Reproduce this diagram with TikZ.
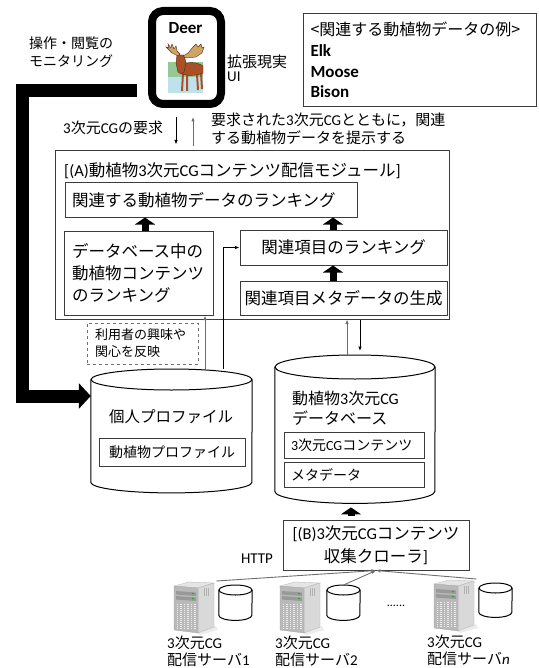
\documentclass[tikz,border=0pt]{standalone}
\usepackage{fontspec}
\setmainfont{Noto Sans CJK JP}
\newfontfamily\lat{Carlito}
\usetikzlibrary{arrows.meta}
\definecolor{cLine}{RGB}{60,60,60}
\definecolor{cArr}{RGB}{110,110,110}
\definecolor{cGrass}{RGB}{150,200,150}
\definecolor{cWater}{RGB}{190,225,235}
\definecolor{cMoose}{RGB}{170,80,40}
\definecolor{cMooseDk}{RGB}{90,40,20}
\definecolor{cAntler}{RGB}{205,165,100}
\newcommand{\sanji}{{\lat 3}次元{\lat CG}}
\newcommand{\fbig}{\fontsize{16.5}{22}\selectfont}
\newcommand{\fmid}{\fontsize{15}{18.5}\selectfont}
\newcommand{\fsmall}{\fontsize{13}{17}\selectfont}
\newcommand{\exname}[1]{{\lat\bfseries\fontsize{17}{20.7}\selectfont #1}}
% side and bottom of a drum, top ellipse on the node's north edge
\newcommand{\drumside}[3]{%
  \draw[cyl] (#1.north west) -- (#1.south west)
    arc[start angle=180, end angle=360, x radius=#2, y radius=#3] -- (#1.north east);
  \draw[cyl] (#1.north) ellipse[x radius=#2, y radius=#3];}
% tower server drawn inside a srvbox node
\newcommand{\servericon}[1]{%
  \begin{scope}[shift={(#1.north west)}]
    \fill[gray!15] (22,51) -- (42,45) -- (44,49) -- (26,54) -- cycle;
    \fill[gray!20, draw=gray!60, line width=0.3pt] (0,5) -- (15,1) -- (40,2) -- (24,7) -- cycle;
    \fill[gray!30, draw=gray!60, line width=0.3pt] (24,7) -- (40,2) -- (40,46) -- (24,52) -- cycle;
    \fill[gray!55, draw=gray!70, line width=0.3pt] (0,5) -- (24,7) -- (24,52) -- (0,49) -- cycle;
    \fill[gray!80] (2,10) -- (22,11.5) -- (22,15) -- (2,13.5) -- cycle;
    \fill[gray!80] (2,15) -- (22,16.5) -- (22,20) -- (2,18.5) -- cycle;
    \fill[green!70!black] (19,12.5) circle[radius=0.9pt] (19,17.5) circle[radius=0.9pt];
    \foreach \gx in {3.5,7,10.5,14,17.5,21}
      \draw[white!85!gray, line width=1.2pt, dash pattern=on 1.2pt off 0.8pt] (\gx,23) -- (\gx,48);
    \foreach \vx in {30,32,34}
      \draw[gray!60, line width=0.6pt] (\vx,7) -- (\vx,15);
  \end{scope}}

\begin{document}
\begin{tikzpicture}[x=1pt, y=-1pt,
  box/.style={draw=cLine, line width=1pt, inner sep=0pt, align=center, font=\fbig},
  lbl/.style={inner sep=0pt, align=left},
  body/.style={inner sep=0pt},
  cyl/.style={draw=black, line width=1pt, fill=white},
  thinarr/.style={draw=cArr, line width=0.9pt, -{Latex[length=4.5pt,width=3.5pt]}},
  linkarr/.style={draw=black, line width=0.9pt, -{Latex[length=4.5pt,width=3.5pt]}},
  blockarr/.style={line width=7pt, -{Triangle[width=20pt,length=7pt]}},
  monarr/.style={line width=13pt, -{Triangle[width=25pt,length=12pt]}},
  srvbox/.style={inner sep=0pt, minimum width=42pt, minimum height=52pt}]
\useasboundingbox (0,0) rectangle (538,668);

% viewer device with the moose
\fill[cGrass] (168,62) rectangle (203,77);
\fill[cWater] (168,77) rectangle (203,93);
\draw[cMoose, line width=2pt] (183,73) -- (182,91) (187,74) -- (187,91) (197,74) -- (198,90) (201,73) -- (202,89);
\fill[cMoose, draw=cMooseDk, line width=0.4pt] (182,66) .. controls (186,61) and (198,62) .. (203,66) -- (203,73) .. controls (196,76) and (187,76) .. (182,74) -- cycle;
\fill[cMoose, draw=cMooseDk, line width=0.4pt] (177,55) -- (184,55) -- (186,63) -- (184,72) -- (181,74) -- (178,72) -- (176,63) -- cycle;
\fill[cAntler, draw=cMooseDk, line width=0.4pt] (178,56) -- (172,53) -- (166,47) -- (169,48) -- (168,44) -- (171,48) -- (172,44) -- (174,49) -- (176,46) -- (177,51) -- (180,54) -- cycle;
\fill[cAntler, draw=cMooseDk, line width=0.4pt] (183,56) -- (188,53) -- (193,47) -- (196,44) -- (198,47) -- (201,44) -- (202,48) -- (204,47) -- (202,53) -- (196,57) -- (186,58) -- cycle;
\node[draw, line width=8pt, rounded corners=11pt, minimum width=69pt, minimum height=93pt, inner sep=0pt] (phone) at (186.5,57.5) {};
\node[lbl, font={\lat\bfseries\fontsize{17}{20}\selectfont}] (deer) at (185.5,28) {Deer};
\node[lbl, font=\fontsize{15}{14}\selectfont, anchor=west] (arlbl) at (227,68) {拡張現実\\{\lat UI}};
\node[lbl, font=\fontsize{14}{18}\selectfont, anchor=west] (monlbl) at (29,52) {操作・閲覧の\\モニタリング};

\node[draw=cLine, line width=1pt, anchor=north west, inner xsep=7pt, inner ysep=0pt, minimum height=93pt,
      text width=219pt, align=left, font=\fontsize{16}{20.7}\selectfont] (exbox) at (303,13)
  {<関連する動植物データの例>\\\exname{Elk}\\\exname{Moose}\\\exname{Bison}};

\node[lbl, font=\fmid, anchor=west] (reqlbl) at (63,128) {\sanji{}の要求};
\node[lbl, font=\fmid, anchor=west] (preslbl) at (211,129) {要求された\sanji{}とともに，関連\\する動植物データを提示する};

% (A) delivery module
\node[draw=cLine, line width=1pt, minimum width=394pt, minimum height=168pt, inner sep=0pt] (modA) at (252,235) {};
\node[lbl, font=\fbig, anchor=west] (titA) at (64,171) {{\lat[(A)}動植物\sanji{}コンテンツ配信モジュール{\lat]}};
\node[box, minimum width=292pt, minimum height=34pt, text width=278pt, align=left] (rankrel) at (211,200) {関連する動植物データのランキング};
\node[box, minimum width=149pt, minimum height=84pt, text width=133pt, align=left] (rankdb) at (138.5,273) {データベース中の\\動植物コンテンツ\\のランキング};
\node[box, minimum width=207pt, minimum height=35pt] (rankitem) at (343.5,247.5) {関連項目のランキング};
\node[box, minimum width=207pt, minimum height=34pt] (meta) at (343.5,298) {関連項目メタデータの生成};
\draw[blockarr] (rankdb.north -| 145,0) -- (rankrel.south -| 145,0);
\draw[blockarr] (rankitem.north -| 333,0) -- (rankrel.south -| 333,0);
\draw[blockarr] (meta.north -| 333,0) -- (rankitem.south -| 333,0);

\node[draw=cArr, dashed, line width=0.8pt, inner sep=0pt, minimum width=111pt, minimum height=41pt,
      text width=95pt, align=left, font=\fsmall] (note) at (142.5,343.5) {利用者の興味や\\関心を反映};

% personal profile store
\node[body, minimum width=161pt, minimum height=102.5pt, anchor=north] (prof) at (171.5,379.5) {};
\drumside{prof}{80.5pt}{10.5pt}
\coordinate (proftop) at ([yshift=10.5pt]prof.north);
\node[lbl, font=\fontsize{15.5}{18}\selectfont] (proftit) at (171,417) {個人プロファイル};
\node[box, font=\fontsize{14}{17}\selectfont, minimum width=146pt, minimum height=28pt] (profbox) at (172,452) {動植物プロファイル};

% 3D CG database
\node[body, minimum width=160pt, minimum height=124pt, anchor=north] (db) at (355,367) {};
\drumside{db}{80pt}{12pt}
\coordinate (dbtop) at ([yshift=12pt]db.north);
\coordinate (dbbot) at ([yshift=-12pt]db.south);
\node[lbl, font=\fontsize{16}{20}\selectfont, anchor=west] (dbtit) at (292,408) {動植物\sanji\\データベース};
\node[box, font=\fontsize{14}{17}\selectfont, minimum width=140pt, minimum height=26pt, text width=126pt, align=left] (cgbox) at (354,445) {\sanji{}コンテンツ};
\node[box, font=\fontsize{14}{17}\selectfont, minimum width=140pt, minimum height=25pt, text width=126pt, align=left] (metabox) at (354,474.5) {メタデータ};

% (B) crawler
\node[box, minimum width=186pt, minimum height=50pt, font=\fontsize{16.5}{23}\selectfont] (crawl) at (376,545) {{\lat[(B)}\sanji{}コンテンツ\\収集クローラ{\lat]}};
\draw[blockarr, shorten <=4pt, shorten >=4pt] (crawl.north -| 351,0) -- (dbbot -| 351,0);
\node[lbl, font={\lat\fontsize{15}{18}\selectfont}] (http) at (257,559) {HTTP};

% delivery servers
\node[srvbox, anchor=north west] (srv1) at (174,581) {};
\node[srvbox, anchor=north west] (srv2) at (280,581) {};
\node[srvbox, anchor=north west] (srvn) at (434,579) {};
\servericon{srv1}
\servericon{srv2}
\servericon{srvn}
\node[body, minimum width=33pt, minimum height=25pt, anchor=north] (c1) at (235.5,590) {};
\node[body, minimum width=33pt, minimum height=25pt, anchor=north] (c2) at (343.5,590) {};
\node[body, minimum width=33pt, minimum height=24pt, anchor=north] (cn) at (495.5,588) {};
\drumside{c1}{16.5pt}{5pt}
\drumside{c2}{16.5pt}{5pt}
\drumside{cn}{16.5pt}{5pt}
\coordinate (c2top) at ([yshift=5pt]c2.north);
\node[lbl, font={\lat\fontsize{12}{14}\selectfont}] (dots) at (396,606) {......};
\node[lbl, font=\fontsize{15}{17}\selectfont, anchor=west] (lab1) at (167,651.5) {\sanji\\配信サーバ{\lat 1}};
\node[lbl, font=\fontsize{15}{17}\selectfont, anchor=west] (lab2) at (275,651.5) {\sanji\\配信サーバ{\lat 2}};
\node[lbl, font=\fontsize{15}{17}\selectfont, anchor=west] (labn) at (427,650) {\sanji\\配信サーバ{\lat\itshape n}};
\draw[thinarr] (srv1.north east) -- (crawl.south);
\draw[thinarr] (c2top) -- (crawl.south);
\draw[thinarr] (srvn.north east) -- (crawl.south);

% connectors
\coordinate (mon) at (137,91);
\draw[monarr] (mon) -- (22,91) -- (22,396) -- (prof.west |- 0,396);
\coordinate (reqA) at (176,117);
\coordinate (retA) at (193,117);
\draw[linkarr, shorten >=6pt] (reqA) -- (reqA |- modA.north);
\draw[thinarr, shorten <=4pt] (retA |- modA.north) -- (retA);
\draw[thinarr] (proftop -| 205,0) -- (rankdb.south -| 205,0);
\draw[linkarr] (proftop -| 223,0) |- (rankitem.west);
\draw[thinarr] (dbtop -| 347,0) -- (modA.south -| 347,0);
\draw[linkarr, shorten >=4pt] (modA.south -| 360,0) -- (dbtop -| 360,0);
\end{tikzpicture}
\end{document}
